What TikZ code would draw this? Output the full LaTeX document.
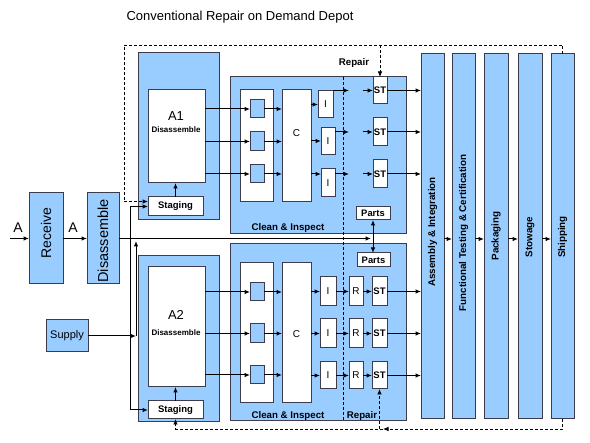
\documentclass[tikz,border=0pt]{standalone}
\usepackage{fontspec}
\setmainfont{Liberation Sans}
\usetikzlibrary{arrows.meta}
\definecolor{boxblue}{HTML}{99CCFF}
\definecolor{edgegray}{HTML}{3C3C4C}
\tikzset{
  base/.style={draw=edgegray, line width=1pt, inner sep=0pt, outer sep=0pt},
  bluebox/.style={base, fill=boxblue},
  whitebox/.style={base, fill=white},
  flow/.style={draw=black, line width=1pt, -{Latex[length=5.5pt,width=4.5pt]}},
  plainline/.style={draw=black, line width=1pt},
  dashline/.style={draw=black, line width=0.8pt, dash pattern=on 3pt off 2pt},
  dashflow/.style={dashline, -{Latex[length=5.5pt,width=4.5pt]}},
  lbl/.style={font=\fontsize{9.7}{11}\selectfont\bfseries, inner sep=0pt},
  small/.style={font=\fontsize{8}{9}\selectfont\bfseries, inner sep=0pt},
  big/.style={font=\fontsize{13}{15}\selectfont, inner sep=0pt},
  letter/.style={font=\fontsize{10}{12}\selectfont},
  collbl/.style={font=\fontsize{9.8}{11}\selectfont\bfseries, inner sep=0pt, rotate=90},
}
\newcommand{\mybox}[7]{\node[#6, minimum width={(#4-#2)*1pt}, minimum height={(#5-#3)*1pt}] (#1) at ({(#2+#4)/2},{(#3+#5)/2}) {#7};}
\begin{document}
\begin{tikzpicture}[x=1pt,y=-1pt]
\useasboundingbox[fill=white] (0,0) rectangle (590,443);
% title
\node[font=\fontsize{13}{15}\selectfont, inner sep=0pt] (title) at (240,17) {Conventional Repair on Demand Depot};

% left boxes
\mybox{recv}{29}{193}{63}{284}{bluebox}{}
\mybox{dis}{87}{193}{119}{284}{bluebox}{}
\node[font=\fontsize{14}{16}\selectfont, inner sep=0pt, rotate=90] (recvt) at (46,233) {Receive};
\node[font=\fontsize{14.5}{16}\selectfont, inner sep=0pt, rotate=90] (dist) at (103,241) {Disassemble};
\mybox{supply}{46}{320}{88}{352}{bluebox}{\fontsize{11}{13}\selectfont Supply}
\node[font=\fontsize{14}{16}\selectfont, inner sep=0pt] (a0) at (18,228) {A};
\node[font=\fontsize{14}{16}\selectfont, inner sep=0pt] (a1) at (73,228) {A};

% upper block
\mybox{A1o}{138}{53}{219}{220}{bluebox}{}
\mybox{A1w}{148}{90}{205}{183}{whitebox}{}
\node[big] (A1t) at (176,116) {A1};
\node[small] (A1d) at (176,130) {Disassemble};
\mybox{st1}{148}{197}{203}{216}{whitebox}{\fontsize{9.5}{11}\selectfont\bfseries Staging}
\mybox{ci1}{230}{77}{406}{234}{bluebox}{}
\mybox{col1}{240}{90}{273}{202}{whitebox}{}
\mybox{sqa}{250}{100}{264}{118}{bluebox}{}
\mybox{sqb}{250}{132}{264}{151}{bluebox}{}
\mybox{sqc}{250}{165}{264}{183}{bluebox}{}
\mybox{C1}{282}{90}{311}{202}{whitebox}{}
\node[letter] (C1t) at (296.5,133) {C};
\mybox{Ia}{318}{91}{333}{118}{whitebox}{\fontsize{10}{12}\selectfont I}
\mybox{Ib}{321}{128}{335}{155}{whitebox}{\fontsize{10}{12}\selectfont I}
\mybox{Ic}{321}{169}{335}{197}{whitebox}{\fontsize{10}{12}\selectfont I}
\mybox{STa}{373}{77}{387}{104}{whitebox}{\fontsize{9.5}{11}\selectfont\bfseries ST}
\mybox{STb}{373}{118}{387}{146}{whitebox}{\fontsize{9.5}{11}\selectfont\bfseries ST}
\mybox{STc}{373}{160}{387}{188}{whitebox}{\fontsize{9.5}{11}\selectfont\bfseries ST}
\mybox{parts1}{356}{207}{390}{220}{whitebox}{\fontsize{9.4}{11}\selectfont\bfseries Parts}
\node[lbl] (ci1t) at (288,228) {Clean \& Inspect};
\node[lbl] (rep1t) at (354,63) {Repair};

% lower block
\mybox{A2o}{138}{256}{219}{422}{bluebox}{}
\mybox{A2w}{148}{267}{205}{387}{whitebox}{}
\node[big] (A2t) at (176,315) {A2};
\node[small] (A2d) at (176,333) {Disassemble};
\mybox{st2}{148}{401}{203}{419}{whitebox}{\fontsize{9.5}{11}\selectfont\bfseries Staging}
\mybox{ci2}{230}{244}{406}{421}{bluebox}{}
\mybox{col2}{240}{263}{273}{403}{whitebox}{}
\mybox{sqd}{250}{283}{264}{301}{bluebox}{}
\mybox{sqe}{250}{324}{264}{343}{bluebox}{}
\mybox{sqf}{250}{366}{264}{384}{bluebox}{}
\mybox{C2}{282}{263}{311}{403}{whitebox}{}
\node[letter] (C2t) at (296.5,334) {C};
\mybox{Id}{320}{277}{336}{306}{whitebox}{\fontsize{10}{12}\selectfont I}
\mybox{Ie}{320}{319}{336}{348}{whitebox}{\fontsize{10}{12}\selectfont I}
\mybox{If}{320}{362}{336}{389}{whitebox}{\fontsize{10}{12}\selectfont I}
\mybox{Rd}{349}{277}{363}{306}{whitebox}{\fontsize{10}{12}\selectfont R}
\mybox{Re}{349}{319}{363}{348}{whitebox}{\fontsize{10}{12}\selectfont R}
\mybox{Rf}{349}{362}{363}{389}{whitebox}{\fontsize{10}{12}\selectfont R}
\mybox{STd}{372}{277}{387}{306}{whitebox}{\fontsize{9.5}{11}\selectfont\bfseries ST}
\mybox{STe}{372}{319}{387}{348}{whitebox}{\fontsize{9.5}{11}\selectfont\bfseries ST}
\mybox{STf}{372}{362}{387}{389}{whitebox}{\fontsize{9.5}{11}\selectfont\bfseries ST}
\mybox{parts2}{357}{253}{390}{267}{whitebox}{\fontsize{9.4}{11}\selectfont\bfseries Parts}
\node[lbl] (ci2t) at (288,416) {Clean \& Inspect};
\node[lbl] (rep2t) at (362,416) {Repair};

% repair divider
\draw[dashline] (343,77) -- (343,421);

% columns
\mybox{asm}{421}{54}{444}{419}{bluebox}{}
\mybox{fun}{452}{54}{475}{419}{bluebox}{}
\mybox{pack}{484}{54}{508}{419}{bluebox}{}
\mybox{stow}{518}{54}{542}{419}{bluebox}{}
\mybox{ship}{551}{54}{574}{419}{bluebox}{}
\node[collbl] (asmt) at (432.5,232) {Assembly \& Integration};
\node[collbl] (funt) at (463.5,233) {Functional Testing \& Certification};
\node[collbl] (packt) at (496,236) {Packaging};
\node[collbl] (stowt) at (530,237) {Stowage};
\node[collbl] (shipt) at (562.5,237) {Shipping};
\foreach \p/\q in {asm/fun,fun/pack,pack/stow,stow/ship}
  \draw[flow] ([yshift=-2.5pt]\p.east) -- ([yshift=-2.5pt]\q.west);

% input chain
\coordinate (ain) at (10,238.5);
\draw[flow] (ain) -- (recv.west);
\draw[flow] (recv.east) -- (dis.west);
\coordinate (j1) at (130,238.5);
\coordinate (pj) at (371,238.5);
\draw[plainline] (dis.east) -- (j1);
\draw[flow] (j1) -- (pj);
\draw[flow] (j1) |- (st1.west);
\draw[flow] (j1) |- (st2.west);
\coordinate (sj) at (136,336);
\draw[flow] (supply.east) -- (sj);
\draw[flow] (sj) -- (136,241);
\draw[{Latex[length=5.5pt,width=4.5pt]}-{Latex[length=5.5pt,width=4.5pt]}, line width=1pt] (parts1.south) -- (parts1.south|-parts2.north);

% staging to disassemble
\draw[flow] (st1.north) -- (st1.north|-A1w.south);
\draw[flow] (st2.north) -- (st2.north|-A2w.south);

% upper rows
\foreach \s/\i/\t in {sqa/Ia/STa, sqb/Ib/STb, sqc/Ic/STc}{
  \draw[flow] (A1w.east|-\s.west) -- (\s.west);
  \draw[flow] (\s.east) -- (C1.west|-\s.east);
  \draw[flow] (\t.east) -- (asm.west|-\t.east);
  \draw[flow] ([xshift=-10pt]\t.west) -- (\t.west);
  \draw[flow] (\i.east|-\t.west) -- (349,0|-\t.west);
}
\draw[flow] (C1.east|-Ia.west) -- (Ia.west);
\draw[flow] (C1.east|-0,141) -- (Ib.west|-0,141);
\draw[flow] (C1.east|-sqc.east) -- (Ic.west|-sqc.east);

% lower rows
\foreach \s/\i/\r/\t in {sqd/Id/Rd/STd, sqe/Ie/Re/STe, sqf/If/Rf/STf}{
  \draw[flow] (A2w.east|-\s.west) -- (\s.west);
  \draw[flow] (\s.east) -- (C2.west|-\s.east);
  \draw[flow] (C2.east|-\i.west) -- (\i.west);
  \draw[flow] (\i.east) -- (\r.west);
  \draw[flow] (\r.east) -- (\t.west);
  \draw[flow] (\t.east) -- (asm.west|-\t.east);
}

% dashed feedback loops
\coordinate (tl) at (124,45);
\coordinate (tt) at (380,45);
\draw[dashline] (ship.north) -- (ship.north|-tl) -- (tl) -- (124,201.5);
\draw[dashflow] (124,201.5) -- ([yshift=5pt]st1.west);
\draw[dashflow] (tt) -- (STa.north);
\coordinate (bl) at (383,429);
\draw[dashflow] (ship.south) -- (ship.south|-bl) -- (bl);
\draw[dashflow] (bl) -- (st2.south|-bl) -- (st2.south);
\draw[dashflow] (STf.south|-bl) -- (STf.south);
\end{tikzpicture}
\end{document}
